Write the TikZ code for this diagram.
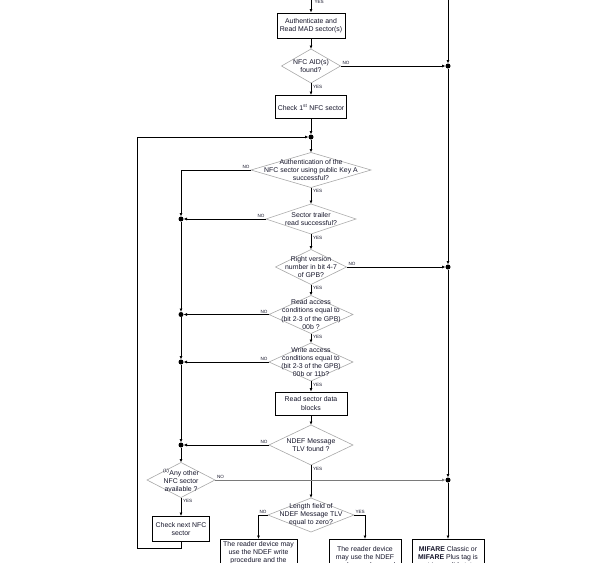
\documentclass[tikz,border=0pt]{standalone}
\usepackage{fontspec}
\setmainfont{Liberation Sans}
\usetikzlibrary{shapes.geometric,arrows.meta,calc}
\definecolor{ink}{HTML}{15152A}
\definecolor{decgray}{HTML}{A8A8A8}
\definecolor{linegray}{HTML}{7A7A7A}
\begin{document}
\begin{tikzpicture}[x=1pt,y=-1pt,
  txt/.style={font=\fontsize{6.9}{8.2}\selectfont, text=ink, align=center, inner sep=0pt},
  box/.style={draw=black, line width=0.9pt, rectangle, inner sep=0pt, txt},
  dec/.style={diamond, draw=decgray, line width=0.6pt, inner sep=0pt, outer sep=0pt},
  lbl/.style={font=\fontsize{4.6}{5}\selectfont, inner sep=0.3pt, text=ink},
  jdot/.style={circle, fill=black, inner sep=0pt, minimum size=5pt, outer sep=0pt},
  flow/.style={draw=black, line width=0.8pt, -{Latex[length=3.5pt,width=3pt]}},
  flowgray/.style={draw=linegray, line width=0.8pt, -{Latex[length=3.5pt,width=3pt]}},
  plain/.style={draw=black, line width=0.8pt},
]
\useasboundingbox (0,0) rectangle (598,563);
\clip (0,0) rectangle (598,563);

% ---------- main column ----------
\coordinate (top) at (311,-4);
\node[box, minimum width=68pt, minimum height=25pt] (a) at (311,25.5) {Authenticate and\\Read MAD sector(s)};
\node[dec, minimum width=59pt, minimum height=34pt, label={[txt]center:NFC AID(s)\\found?}] (d1) at (311,66) {};
\node[box, minimum width=71pt, minimum height=23pt] (b) at (311,107) {Check 1\textsuperscript{st} NFC sector};
\node[jdot] (j0) at (311,137) {};
\node[dec, minimum width=120pt, minimum height=35pt, label={[txt]center:Authentication of the\\NFC sector using public Key A\\successful?}] (d2) at (311,170) {};
\node[dec, minimum width=90pt, minimum height=30pt, label={[txt]center:Sector trailer\\read successful?}] (d3) at (311,219) {};
\node[dec, minimum width=71pt, minimum height=35pt, label={[txt]center:Right version\\number in bit 4-7\\of GPB?}] (d4) at (311,267) {};
\node[dec, minimum width=84pt, minimum height=38pt, label={[txt]center:Read access\\conditions equal to\\(bit 2-3 of the GPB)\\00b ?}] (d5) at (311,314.5) {};
\node[dec, minimum width=84pt, minimum height=38pt, label={[txt]center:Write access\\conditions equal to\\(bit 2-3 of the GPB)\\00b or 11b?}] (d6) at (311,362) {};
\node[box, minimum width=72pt, minimum height=23pt] (c) at (311,403.5) {Read sector data\\blocks};
\node[dec, minimum width=84pt, minimum height=40pt, label={[txt]center:NDEF Message\\TLV found ?}] (d7) at (311,445) {};
\node[dec, minimum width=86pt, minimum height=34pt, label={[txt]center:Length field of\\NDEF Message TLV\\equal to zero?}] (d8) at (311,515) {};

% ---------- left column ----------
\coordinate (c1) at (181,170);
\node[jdot] (l1) at (181,219) {};
\node[jdot] (l2) at (181,314.5) {};
\node[jdot] (l3) at (181,362) {};
\node[jdot] (l4) at (181,445) {};
\node[dec, minimum width=68pt, minimum height=35pt, label={[txt]center:\textsuperscript{(1)}Any other\\NFC sector\\available ?}] (d9) at (181,480) {};
\node[box, minimum width=57pt, minimum height=25pt] (e) at (181,529) {Check next NFC\\sector};
\coordinate (lp1) at (181,548);
\coordinate (lp2) at (137,548);
\coordinate (lp3) at (137,137);

% ---------- right column ----------
\coordinate (rtop) at (448,-4);
\node[jdot] (r1) at (448,66) {};
\node[jdot] (r2) at (448,267) {};
\node[jdot] (r3) at (448,480) {};

% ---------- bottom boxes ----------
\node[draw=black, line width=0.9pt, minimum width=77pt, minimum height=40pt, anchor=north, inner sep=0pt] (f) at (258.5,539) {};
\node[txt, anchor=north] (ft) at (258.5,541.3) {The reader device may\\use the NDEF write\\procedure and the};
\node[draw=black, line width=0.9pt, minimum width=72pt, minimum height=40pt, anchor=north, inner sep=0pt] (g) at (365,539) {};
\node[txt, anchor=north] (gt) at (365,546.3) {The reader device\\may use the NDEF\\read procedure and};
\node[draw=black, line width=0.9pt, minimum width=72pt, minimum height=40pt, anchor=north, inner sep=0pt] (m) at (448,539) {};
\node[txt, anchor=north] (mt) at (448,546.3) {\textbf{MIFARE} Classic or\\\textbf{MIFARE} Plus tag is\\not in a valid state};
\coordinate (f1) at (258.5,515);
\coordinate (g1) at (365,515);

% ---------- connectors ----------
\draw[flow] (top) -- (a);
\draw[flow] (a) -- (d1);
\draw[flow] (d1) -- (b);
\draw[flow] (b) -- (j0);
\draw[flow] (j0) -- (d2);
\draw[flow] (d2) -- (d3);
\draw[flow] (d3) -- (d4);
\draw[flow] (d4) -- (d5);
\draw[flow] (d5) -- (d6);
\draw[flow] (d6) -- (c);
\draw[flow] (c) -- (d7);
\draw[flow] (d7) -- (d8);

\draw[plain] (d2.west) -- (c1);
\draw[flow] (c1) -- (l1);
\draw[flow] (d3.west) -- (l1);
\draw[flow] (l1) -- (l2);
\draw[flow] (d5.west) -- (l2);
\draw[flow] (l2) -- (l3);
\draw[flow] (d6.west) -- (l3);
\draw[flow] (l3) -- (l4);
\draw[flow] (d7.west) -- (l4);
\draw[flow] (l4) -- (d9);
\draw[flow] (d9) -- (e);
\draw[flow] (e.south) -- (lp1) -- (lp2) -- (lp3) -- (j0);

\draw[flow] (rtop) -- (r1);
\draw[flow] (d1.east) -- (r1);
\draw[flow] (r1) -- (r2);
\draw[flow] (d4.east) -- (r2);
\draw[flow] (r2) -- (r3);
\draw[flowgray] (d9.east) -- (r3);
\draw[flow] (r3) -- (m);

\draw[plain] (d8.west) -- (f1);
\draw[flow] (f1) -- (f);
\draw[plain] (d8.east) -- (g1);
\draw[flow] (g1) -- (g);

% ---------- YES / NO labels ----------
\node[lbl, anchor=west] (ytop) at (314,1.5) {YES};
\node[lbl, anchor=south west] (n1) at ($(d1.east)+(1.5,-0.5)$) {NO};
\node[lbl, anchor=north west] (y1) at ($(d1.south)+(1.5,1.5)$) {YES};
\node[lbl, anchor=south east] (n2) at ($(d2.west)+(-1,-0.5)$) {NO};
\node[lbl, anchor=north west] (y2) at ($(d2.south)+(1.5,1.5)$) {YES};
\node[lbl, anchor=south east] (n3) at ($(d3.west)+(-1,-0.5)$) {NO};
\node[lbl, anchor=north west] (y3) at ($(d3.south)+(1.5,1.5)$) {YES};
\node[lbl, anchor=south west] (n4) at ($(d4.east)+(1.5,-0.5)$) {NO};
\node[lbl, anchor=north west] (y4) at ($(d4.south)+(1.5,1.5)$) {YES};
\node[lbl, anchor=south east] (n5) at ($(d5.west)+(-1,-0.5)$) {NO};
\node[lbl, anchor=north west] (y5) at ($(d5.south)+(1.5,1.5)$) {YES};
\node[lbl, anchor=south east] (n6) at ($(d6.west)+(-1,-0.5)$) {NO};
\node[lbl, anchor=north west] (y6) at ($(d6.south)+(1.5,1.5)$) {YES};
\node[lbl, anchor=south east] (n7) at ($(d7.west)+(-1,-0.5)$) {NO};
\node[lbl, anchor=north west] (y7) at ($(d7.south)+(1.5,1.5)$) {YES};
\node[lbl, anchor=south east] (n8) at ($(d8.west)+(-1,-0.5)$) {NO};
\node[lbl, anchor=south west] (y8) at ($(d8.east)+(1,-0.5)$) {YES};
\node[lbl, anchor=south west] (n9) at ($(d9.east)+(1.5,-0.5)$) {NO};
\node[lbl, anchor=north west] (y9) at ($(d9.south)+(1.5,1.5)$) {YES};
\end{tikzpicture}
\end{document}
